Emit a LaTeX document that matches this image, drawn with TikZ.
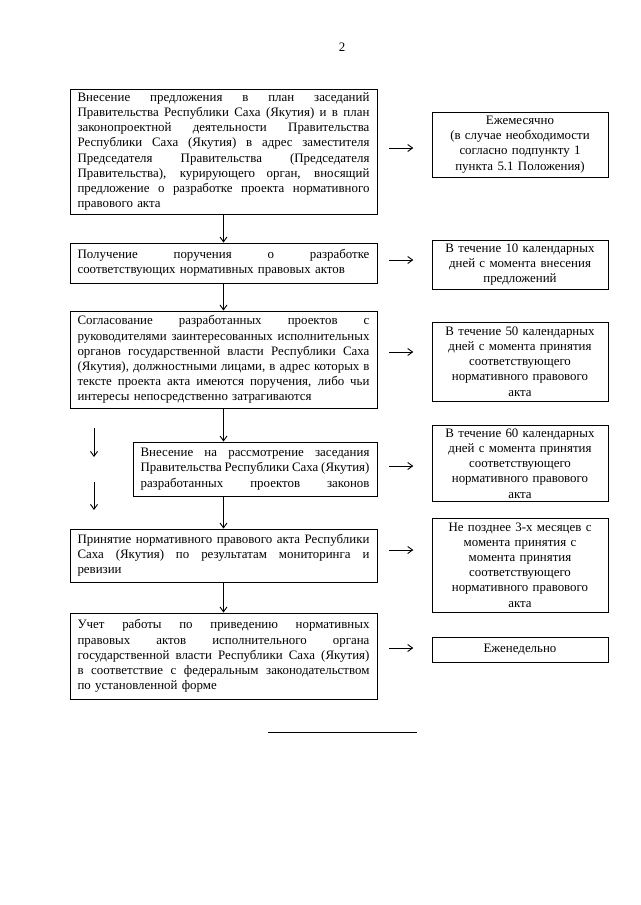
\documentclass[tikz,border=0pt]{standalone}
\usepackage{fontspec}
\setmainfont{Liberation Serif}
\usetikzlibrary{arrows.meta}

\newcommand{\jl}[1]{\makebox[\hsize][s]{\spaceskip=0pt\xspaceskip=0pt #1}}

\tikzset{
    leftbox/.style={draw, rectangle, line width=0.8pt, inner xsep=7pt, inner ysep=3.4pt, text width=271.4pt, align=left},
    rightbox/.style={draw, rectangle, line width=0.8pt, inner xsep=7pt, inner ysep=3.4pt, text width=149.6pt, align=center},
    flow/.style={-{Straight Barb[length=4.5pt,width=6.5pt]}, line width=0.85pt}
}

\begin{document}
\begin{tikzpicture}[x=0.9297pt, y=-0.9297pt, font=\fontsize{12}{14.1}\selectfont]

        \useasboundingbox (0,0) rectangle (640,905);

        \node[name=pg] at (342,47) {2};

        % left column
        \node[name=l1, leftbox, minimum height=116pt] at (223.5,151.5) {\jl{Внесение предложения в план заседаний}\\
            \jl{Правительства Республики Саха (Якутия) и в план}\\
            \jl{законопроектной деятельности Правительства}\\
            \jl{Республики Саха (Якутия) в адрес заместителя}\\
            \jl{Председателя Правительства (Председателя}\\
            \jl{Правительства), курирующего орган, вносящий}\\
            \jl{предложение о разработке проекта нормативного}\\
            правового акта};
        \node[name=l2, leftbox, minimum height=37.2pt] at (223.5,263) {\jl{Получение поручения о разработке}\\
            соответствующих нормативных правовых актов};
        \node[name=l3, leftbox, minimum height=90.2pt] at (223.5,359.5) {\jl{Согласование разработанных проектов с}\\
            \jl{руководителями заинтересованных исполнительных}\\
            \jl{органов государственной власти Республики Саха}\\
            \jl{(Якутия), должностными лицами, в адрес которых в}\\
            \jl{тексте проекта акта имеются поручения, либо чьи}\\
            интересы непосредственно затрагиваются};
        \node[name=l4, leftbox, text width=212.8pt, minimum height=50.2pt] at (255,469) {\jl{Внесение на рассмотрение заседания}\\
            \jl{Правительства Республики Саха (Якутия)}\\
            \jl{разработанных проектов законов}};
        \node[name=l5, leftbox, minimum height=49.3pt] at (223.5,555.5) {\jl{Принятие нормативного правового акта Республики}\\
            \jl{Саха (Якутия) по результатам мониторинга и}\\
            ревизии};
        \node[name=l6, leftbox, minimum height=80pt] at (223.5,656) {\jl{Учет работы по приведению нормативных}\\
            \jl{правовых актов исполнительного органа}\\
            \jl{государственной власти Республики Саха (Якутия)}\\
            \jl{в соответствие с федеральным законодательством}\\
            по установленной форме};

        % right column
        \node[name=r1, rightbox, minimum height=60.4pt] at (520,144.5) {Ежемесячно\\(в случае необходимости\\согласно подпункту 1\\пункта 5.1 Положения)};
        \node[name=r2, rightbox, minimum height=45.6pt] at (520,264.5) {В течение 10 календарных\\дней с момента внесения\\предложений};
        \node[name=r3, rightbox, minimum height=73.4pt] at (520,361.5) {В течение 50 календарных\\дней с момента принятия\\соответствующего\\нормативного правового\\акта};
        \node[name=r4, rightbox, minimum height=69.7pt] at (520,463.5) {В течение 60 календарных\\дней с момента принятия\\соответствующего\\нормативного правового\\акта};
        \node[name=r5, rightbox, minimum height=87.4pt] at (520,565) {Не позднее 3-х месяцев с\\момента принятия с\\момента принятия\\соответствующего\\нормативного правового\\акта};
        \node[name=r6, rightbox, minimum height=23.2pt] at (520,649.5) {Еженедельно};

        % down the left column
        \draw[flow] (l1) -- (l2);
        \draw[flow] (l2) -- (l3);
        \draw[flow] (l3.south) -- (l3.south |- l4.north);
        \draw[flow] (l5.north |- l4.south) -- (l5.north);
        \draw[flow] (l5) -- (l6);

        % free arrows on the left
        \coordinate (s1) at (94,428);
        \coordinate (e1) at (94,457);
        \coordinate (s2) at (94,482);
        \coordinate (e2) at (94,510);
        \draw[flow] (s1) -- (e1);
        \draw[flow] (s2) -- (e2);

        % to the terms
        \foreach \i/\ya in {1/148, 2/260, 3/352, 4/466, 5/550, 6/648}
            {
                \draw[flow, shorten <=11pt, shorten >=17pt] (l\i.east |- 0,\ya) -- (r\i.west |- 0,\ya);
            }

        \draw[line width=0.6pt] (268,732) -- (417,732);
    \end{tikzpicture}
\end{document}
